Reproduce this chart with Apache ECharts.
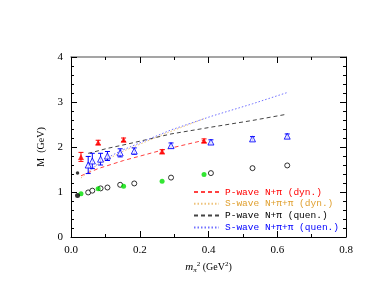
<!DOCTYPE html>
<html><head><meta charset="utf-8">
<script src="https://cdn.jsdelivr.net/npm/echarts@6/dist/echarts.min.js"></script>
<style>html,body{margin:0;padding:0;background:#fff}#c{width:382px;height:295px}</style>
</head><body><div id="c"></div>
<script>
// Dynamical data (x = m_pi^2)
var dynX = [0.029, 0.079, 0.153, 0.265, 0.387];
var dynDelta = [1.78, 2.10, 2.16, 1.90, 2.14];
var dynDeltaErr = [0.10, 0.05, 0.04, 0.04, 0.04];
var dynNucleon = [0.96, 1.07, 1.13, 1.24, 1.39];
var dynPwave = [1.36, 1.52, 1.70, 1.93, 2.15];
var dynSwave = [1.31, 1.62, 1.91, 2.27, 2.63];
// Quenched data
var quenX = [0.050, 0.062, 0.086, 0.106, 0.143, 0.184, 0.291, 0.407, 0.528, 0.629];
var quenDelta = [1.60, 1.69, 1.73, 1.80, 1.87, 1.91, 2.03, 2.11, 2.18, 2.24];
var quenDeltaErr = [0.19, 0.17, 0.13, 0.10, 0.09, 0.07, 0.06, 0.05, 0.05, 0.05];
var quenNucleon = [0.99, 1.03, 1.08, 1.10, 1.16, 1.19, 1.32, 1.42, 1.53, 1.59];
var quenPwave = [1.86, 1.88, 1.93, 1.97, 2.03, 2.10, 2.29, 2.44, 2.59, 2.73];
var quenSwave = [1.44, 1.53, 1.67, 1.76, 1.91, 2.04, 2.38, 2.68, 2.96, 3.21];
// Chiral-limit points
var chiralX = [0.019, 0.019];
var chiralY = [0.92, 1.42];
var xTicks = [0, 0.2, 0.4, 0.6, 0.8];
var yTicks = [0, 1, 2, 3, 4];

function zip(xs, ys){ return xs.map(function(x,i){ return [x, ys[i]]; }); }
function zipErr(xs, ys, es){ return xs.map(function(x,i){ return [x, ys[i]-es[i], ys[i]+es[i]]; }); }

function errRender(color){
  return function(params, api){
    var x = api.value(0), lo = api.value(1), hi = api.value(2);
    var p1 = api.coord([x, lo]), p2 = api.coord([x, hi]);
    var w = 2.5;
    var st = {stroke: color, lineWidth: 1};
    return {type:'group', children:[
      {type:'line', shape:{x1:p1[0],y1:p1[1],x2:p2[0],y2:p2[1]}, style:st},
      {type:'line', shape:{x1:p1[0]-w,y1:p1[1],x2:p1[0]+w,y2:p1[1]}, style:st},
      {type:'line', shape:{x1:p2[0]-w,y1:p2[1],x2:p2[0]+w,y2:p2[1]}, style:st}
    ]};
  };
}

var FONT = 'Liberation Serif';
var LFONT = 'Liberation Mono';
var chart = echarts.init(document.getElementById('c'), null, {renderer:'canvas'});
var axisLineS = {show:true, onZero:false, lineStyle:{color:'#000', width:1}};
var axisTickS = {show:true, inside:true, length:6, lineStyle:{color:'#000'}};
function line(name, data, color, type){
  return {name:name, type:'line', data:data, symbol:'none', showSymbol:false, smooth:false,
    lineStyle:{color:color, width:1, type:type}, itemStyle:{color:color}, z:2};
}
chart.setOption({
  animation:false,
  backgroundColor:'#fff',
  grid:{left:71, right:36, top:57, bottom:58},
  xAxis:[
    {type:'value', min:0, max:0.8, interval:0.2, position:'bottom',
      axisLine:axisLineS, axisTick:axisTickS, splitLine:{show:false},
      minorTick:{show:true, splitNumber:2, length:3, lineStyle:{color:'#000'}},
      axisLabel:{fontFamily:FONT, fontSize:11, color:'#000', margin:8,
        formatter:function(v){ return v.toFixed(1); }},
      name:'{i|m}{s|π}{u|2}{n| (GeV}{u|2}{n|)}', nameLocation:'middle', nameGap:21,
      nameTextStyle:{rich:{
        i:{fontFamily:FONT, fontStyle:'italic', fontSize:11, color:'#000'},
        s:{fontFamily:FONT, fontStyle:'italic', fontSize:7, color:'#000', verticalAlign:'bottom', padding:[6,0,0,0]},
        u:{fontFamily:FONT, fontSize:7, color:'#000', verticalAlign:'top', padding:[0,0,6,0]},
        n:{fontFamily:FONT, fontSize:10, color:'#000'}
      }}
    },
    {type:'value', min:0, max:0.8, interval:0.2, position:'top',
      axisLine:{show:true, onZero:false, lineStyle:{color:'#888', width:1.5}},
      axisTick:axisTickS,
      minorTick:{show:true, splitNumber:2, length:3, lineStyle:{color:'#000'}},
      axisLabel:{show:false}, splitLine:{show:false}}
  ],
  yAxis:[
    {type:'value', min:0, max:4, interval:1, position:'left',
      axisLine:axisLineS, axisTick:axisTickS,
      minorTick:{show:true, splitNumber:5, length:3, lineStyle:{color:'#000'}},
      splitLine:{show:false},
      axisLabel:{fontFamily:FONT, fontSize:11, color:'#000', margin:8},
      name:'M  (GeV)', nameLocation:'middle', nameGap:20, nameRotate:90,
      nameTextStyle:{fontFamily:FONT, fontSize:10, color:'#000'}},
    {type:'value', min:0, max:4, interval:1, position:'right',
      axisLine:axisLineS, axisTick:axisTickS,
      minorTick:{show:true, splitNumber:5, length:3, lineStyle:{color:'#000'}},
      axisLabel:{show:false}, splitLine:{show:false}}
  ],
  legend:{
    orient:'vertical', left:193, top:186.5, itemWidth:25, itemHeight:8, itemGap:0.8,
    padding:0,
    itemStyle:{opacity:0},
    textStyle:{fontFamily:LFONT, fontSize:9.5, lineHeight:11, padding:[0,0,0,1]},
    data:[
      {name:'P-wave N+π (dyn.)', textStyle:{color:'#ff0000'}},
      {name:'S-wave N+π+π (dyn.)', textStyle:{color:'#e0a030'}},
      {name:'P-wave N+π (quen.)', textStyle:{color:'#000000'}},
      {name:'S-wave N+π+π (quen.)', textStyle:{color:'#0000ff'}}
    ],
    selectedMode:false
  },
  series:[
    line('P-wave N+π (dyn.)', zip(dynX, dynPwave), '#ff4040', [4,3]),
    line('S-wave N+π+π (dyn.)', zip(dynX, dynSwave), '#eec27a', [1.5,2]),
    line('P-wave N+π (quen.)', zip(quenX, quenPwave), '#444444', [4,3]),
    line('S-wave N+π+π (quen.)', zip(quenX, quenSwave), '#7070ff', [1.5,2]),
    {type:'custom', renderItem:errRender('#ff0000'), data:zipErr(dynX, dynDelta, dynDeltaErr), z:3},
    {type:'custom', renderItem:errRender('#0000ff'), data:zipErr(quenX, quenDelta, quenDeltaErr), z:3},
    {type:'scatter', data:zip(dynX, dynDelta), symbol:'triangle', symbolSize:6,
      itemStyle:{color:'#ff0000'}, z:4},
    {type:'scatter', data:zip(quenX, quenDelta), symbol:'triangle', symbolSize:6,
      itemStyle:{color:'#ffffff', borderColor:'#0000ff', borderWidth:1}, z:4},
    {type:'scatter', data:zip(quenX, quenNucleon), symbol:'circle', symbolSize:5,
      itemStyle:{color:'#ffffff', borderColor:'#000', borderWidth:1}, z:4},
    {type:'scatter', data:zip(dynX, dynNucleon), symbol:'circle', symbolSize:5,
      itemStyle:{color:'#00e000'}, z:4},
    {type:'scatter', data:[[chiralX[0], chiralY[0]]], symbol:'circle', symbolSize:5,
      itemStyle:{color:'#000'}, z:4},
    {type:'scatter', data:[[chiralX[1], chiralY[1]]], symbol:'circle', symbolSize:3.5,
      itemStyle:{color:'#000'}, z:4}
  ]
});
</script></body></html>
